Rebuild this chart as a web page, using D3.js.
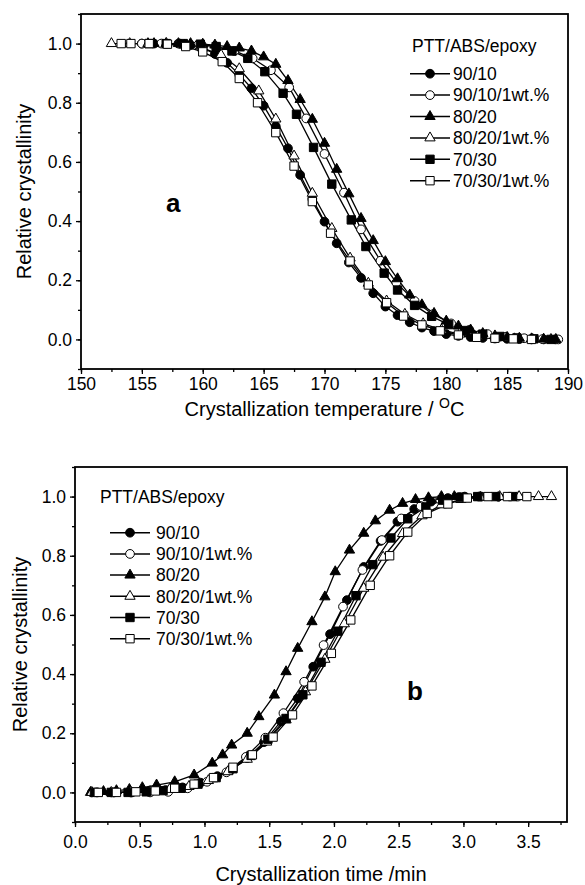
<!DOCTYPE html>
<html>
<head>
<meta charset="utf-8">
<script src="https://cdn.jsdelivr.net/npm/d3@7"></script>
<style>
body { margin: 0; background: #fff; }
text { font-family: "Liberation Sans", Arial, sans-serif; fill: #000; }
</style>
</head>
<body>
<svg id="chart" width="585" height="885"></svg>
<script>
// series names, same for both panels
var seriesNames = ["90/10", "90/10/1wt.%", "80/20", "80/20/1wt.%", "70/30", "70/30/1wt.%"];

// panel a : temperature (C) vs relative crystallinity
var a9010T   = [155,156,157,158,159,160,161,162,163,164,165,166,167,168,169,170,171,172,173,174,175,176,177,178,179,180,181,182,183,184,185,186,187,188,189];
var a9010X   = [1,1,1,1,0.995,0.985,0.965,0.935,0.895,0.849,0.79,0.72,0.646,0.556,0.475,0.398,0.325,0.26,0.208,0.156,0.111,0.082,0.058,0.04,0.028,0.018,0.012,0.008,0.005,0.003,0.002,0.001,0,0,0];
var a9010eT  = [155.0,156.6,158.1,159.6,161.1,162.6,164.1,165.6,167.1,168.5,170.0,171.6,173.0,174.6,175.9,177.4,178.9,180.4,181.9,183.4,184.9,186.4,187.9,189.2];
var a9010eX  = [1,1,1,0.995,0.99,0.975,0.95,0.91,0.852,0.747,0.627,0.496,0.372,0.266,0.192,0.13,0.085,0.054,0.032,0.018,0.009,0.004,0.001,0];
var a8020T   = [156,157,158,159,160,161,162,163,164,165,166,167,168,169,170,171,172,173,174,175,176,177,178,179,180,181,182,183,184,185,186,187,188,189];
var a8020X   = [1,1,1,1,0.998,0.995,0.99,0.985,0.975,0.955,0.93,0.875,0.811,0.744,0.663,0.575,0.492,0.409,0.334,0.263,0.205,0.15,0.117,0.088,0.062,0.045,0.032,0.02,0.012,0.007,0.004,0.002,0.001,0];
var a8020eT  = [152.5,154.0,155.5,157.0,158.5,160.0,161.5,163.0,164.6,166.0,167.5,169.0,170.6,172.1,173.6,175.1,176.6,178.1,179.6,181.1,182.6,184.1,185.6,187.1,188.6];
var a8020eX  = [1,1,1,1,0.995,0.985,0.962,0.915,0.84,0.745,0.62,0.494,0.375,0.275,0.19,0.13,0.085,0.053,0.032,0.018,0.01,0.005,0.002,0,0];
var a7030T   = [155.6,157.0,158.4,159.8,161.1,162.4,163.7,165.1,166.6,167.7,169.1,170.6,172.2,173.4,174.9,176.0,177.4,178.8,180.2,181.6,183.0,184.4,185.8,187.2,188.6];
var a7030X   = [1,1,1,0.998,0.99,0.975,0.95,0.905,0.832,0.761,0.649,0.525,0.404,0.314,0.224,0.167,0.115,0.078,0.05,0.03,0.018,0.01,0.005,0.002,0];
var a7030eT  = [153.3,154.1,155.6,157.1,158.6,160.0,161.6,163.0,164.5,166.0,167.5,169.0,170.5,172.1,173.6,175.1,176.5,178.0,179.5,181.0,182.5,184.0,185.5,187.0];
var a7030eX  = [1,1,1,0.998,0.99,0.972,0.939,0.882,0.8,0.699,0.586,0.466,0.359,0.265,0.184,0.124,0.079,0.049,0.029,0.015,0.007,0.004,0.002,0];

// panel b : time (min) vs relative crystallinity
var b9010T   = [0.17,0.30,0.44,0.57,0.70,0.83,0.97,1.10,1.20,1.33,1.46,1.59,1.72,1.84,1.97,2.10,2.23,2.36,2.49,2.62,2.75,2.88,3.01,3.14,3.27];
var b9010X   = [0,0,0,0.003,0.008,0.017,0.033,0.055,0.075,0.116,0.17,0.24,0.318,0.425,0.535,0.65,0.762,0.85,0.915,0.958,0.983,0.995,1,1,1];
var b9010eT  = [0.13,0.28,0.43,0.58,0.72,0.87,1.02,1.17,1.32,1.47,1.61,1.77,1.92,2.07,2.22,2.37,2.52,2.67,2.82,2.97,3.12,3.27,3.42];
var b9010eX  = [0,0,0,0,0.002,0.014,0.036,0.068,0.12,0.185,0.268,0.374,0.498,0.628,0.752,0.853,0.926,0.968,0.99,0.998,1,1,1];
var b8020T   = [0.12,0.22,0.32,0.42,0.52,0.63,0.77,0.92,1.06,1.14,1.21,1.33,1.42,1.54,1.63,1.72,1.83,1.93,2.01,2.12,2.23,2.32,2.43,2.53,2.63,2.73,2.83,2.93];
var b8020X   = [0,0.003,0.006,0.01,0.016,0.025,0.036,0.059,0.099,0.127,0.16,0.2,0.256,0.329,0.408,0.487,0.577,0.661,0.746,0.819,0.876,0.918,0.954,0.977,0.99,0.996,1,1];
var b8020eT  = [0.13,0.28,0.43,0.58,0.73,0.88,1.03,1.18,1.33,1.48,1.63,1.78,1.93,2.08,2.23,2.38,2.53,2.68,2.83,2.98,3.13,3.28,3.43,3.58,3.68];
var b8020eX  = [0,0,0,0.003,0.01,0.02,0.04,0.07,0.112,0.17,0.245,0.34,0.45,0.57,0.69,0.795,0.875,0.935,0.972,0.99,0.998,1,1,1,1];
var b7030T   = [0.15,0.28,0.41,0.55,0.68,0.82,0.95,1.09,1.22,1.36,1.49,1.63,1.76,1.90,2.03,2.17,2.30,2.44,2.57,2.71,2.84,2.98,3.11,3.25,3.38];
var b7030X   = [0,0,0,0.002,0.006,0.014,0.028,0.05,0.08,0.125,0.18,0.25,0.33,0.44,0.545,0.665,0.77,0.86,0.925,0.965,0.988,0.998,1,1,1];
var b7030eT  = [0.18,0.32,0.47,0.62,0.77,0.92,1.07,1.22,1.37,1.53,1.68,1.83,1.98,2.13,2.28,2.43,2.57,2.72,2.88,3.03,3.19,3.34,3.49];
var b7030eX  = [0,0,0.002,0.005,0.014,0.028,0.05,0.085,0.127,0.187,0.262,0.36,0.47,0.583,0.7,0.8,0.88,0.943,0.975,0.995,1,1,1];

// tick values
var aXTicks = [150,155,160,165,170,175,180,185,190];
var bXTicks = [0.0,0.5,1.0,1.5,2.0,2.5,3.0,3.5];
var yTicks  = [0.0,0.2,0.4,0.6,0.8,1.0];

// marker style per series (circle/triangle/square, filled or open)
var shapes = [d3.symbolCircle, d3.symbolCircle, d3.symbolTriangle, d3.symbolTriangle, d3.symbolSquare, d3.symbolSquare];
var sizes  = [60, 60, 46, 46, 70, 70];
var fills  = ["#000", "#fff", "#000", "#fff", "#000", "#fff"];

var svg = d3.select("#chart");

function zip(t, v) { return t.map(function(d, i) { return {t: d, v: v[i]}; }); }

var panelA = {
  left: 81, right: 568, top: 14, bottom: 369,
  xDomain: [150, 190], xTicks: aXTicks, xMinorStep: 2.5, xFormat: d3.format("d"), xPad: 4,
  data: [zip(a9010T,a9010X), zip(a9010eT,a9010eX), zip(a8020T,a8020X), zip(a8020eT,a8020eX), zip(a7030T,a7030X), zip(a7030eT,a7030eX)],
  legend: {titleX: 412, titleY: 52, lineX0: 410, lineX1: 450, textX: 453, rowY: 80, rowStep: 21.4},
  tag: {text: "a", x: 166, y: 212},
  yTitle: {x: 31},
  xTitle: {y: 416}
};
var panelB = {
  left: 75, right: 567, top: 467, bottom: 822,
  xDomain: [0, 3.8], xTicks: bXTicks, xMinorStep: 0.25, xFormat: d3.format(".1f"), xPad: 9,
  data: [zip(b9010T,b9010X), zip(b9010eT,b9010eX), zip(b8020T,b8020X), zip(b8020eT,b8020eX), zip(b7030T,b7030X), zip(b7030eT,b7030eX)],
  legend: {titleX: 100, titleY: 503, lineX0: 110, lineX1: 150, textX: 156, rowY: 539, rowStep: 21.2},
  tag: {text: "b", x: 407, y: 700},
  yTitle: {x: 27},
  xTitle: {y: 881}
};

function drawPanel(p, xTitleParts) {
  var x = d3.scaleLinear().domain(p.xDomain).range([p.left, p.right]);
  var y = d3.scaleLinear().domain([-0.1, 1.1]).range([p.bottom, p.top]);
  var g = svg.append("g");

  // minor ticks
  var xMinor = d3.range(p.xDomain[0], p.xDomain[1] + 1e-9, p.xMinorStep);
  var yMinor = d3.range(-0.1, 1.1 + 1e-9, 0.1);
  g.append("g").attr("transform", "translate(0," + p.bottom + ")")
    .call(d3.axisBottom(x).tickValues(xMinor).tickSize(3).tickFormat(""))
    .call(function(s) { s.select(".domain").remove(); s.selectAll("line").attr("stroke-width", 1.3); });
  g.append("g").attr("transform", "translate(" + p.left + ",0)")
    .call(d3.axisLeft(y).tickValues(yMinor).tickSize(3).tickFormat(""))
    .call(function(s) { s.select(".domain").remove(); s.selectAll("line").attr("stroke-width", 1.3); });

  // major ticks + labels
  g.append("g").attr("transform", "translate(0," + p.bottom + ")")
    .call(d3.axisBottom(x).tickValues(p.xTicks).tickSize(5).tickPadding(p.xPad).tickFormat(p.xFormat))
    .call(function(s) {
      s.select(".domain").remove();
      s.selectAll("line").attr("stroke-width", 1.3);
      s.selectAll("text").attr("font-size", 17.5).attr("font-family", "Liberation Sans, Arial, sans-serif");
    });
  g.append("g").attr("transform", "translate(" + p.left + ",0)")
    .call(d3.axisLeft(y).tickValues(yTicks).tickSize(5).tickPadding(4).tickFormat(d3.format(".1f")))
    .call(function(s) {
      s.select(".domain").remove();
      s.selectAll("line").attr("stroke-width", 1.3);
      s.selectAll("text").attr("font-size", 17.5).attr("font-family", "Liberation Sans, Arial, sans-serif");
    });

  // frame
  g.append("rect")
    .attr("x", p.left).attr("y", p.top)
    .attr("width", p.right - p.left).attr("height", p.bottom - p.top)
    .attr("fill", "none").attr("stroke", "#000").attr("stroke-width", 1.8);

  var line = d3.line().x(function(d) { return x(d.t); }).y(function(d) { return y(d.v); });

  p.data.forEach(function(series, i) {
    g.append("path").datum(series)
      .attr("d", line).attr("fill", "none").attr("stroke", "#000").attr("stroke-width", 1.3);
  });
  p.data.forEach(function(series, i) {
    g.selectAll(null).data(series).enter().append("path")
      .attr("d", d3.symbol().type(shapes[i]).size(sizes[i]))
      .attr("transform", function(d) { return "translate(" + x(d.t) + "," + y(d.v) + ")"; })
      .attr("fill", fills[i]).attr("stroke", "#000").attr("stroke-width", 1);
  });

  // legend
  var L = p.legend;
  g.append("text").attr("x", L.titleX).attr("y", L.titleY).attr("font-size", 17.5).text("PTT/ABS/epoxy");
  seriesNames.forEach(function(name, i) {
    var by = L.rowY + i * L.rowStep, cy = by - 6.3;
    g.append("line").attr("x1", L.lineX0).attr("x2", L.lineX1).attr("y1", cy).attr("y2", cy)
      .attr("stroke", "#000").attr("stroke-width", 1.5);
    g.append("path").attr("d", d3.symbol().type(shapes[i]).size(sizes[i]))
      .attr("transform", "translate(" + ((L.lineX0 + L.lineX1) / 2) + "," + cy + ")")
      .attr("fill", fills[i]).attr("stroke", "#000").attr("stroke-width", 1);
    g.append("text").attr("x", L.textX).attr("y", by).attr("font-size", 17.5).text(name);
  });

  // panel tag
  g.append("text").attr("x", p.tag.x).attr("y", p.tag.y)
    .attr("font-size", 26).attr("font-weight", "bold").text(p.tag.text);

  // axis titles
  g.append("text")
    .attr("transform", "translate(" + p.yTitle.x + "," + ((p.top + p.bottom) / 2) + ") rotate(-90)")
    .attr("text-anchor", "middle").attr("font-size", 20).text("Relative crystallinity");
  var xt = g.append("text").attr("x", (p.left + p.right) / 2).attr("y", p.xTitle.y)
    .attr("text-anchor", "middle").attr("font-size", 20);
  xTitleParts(xt);
}

drawPanel(panelA, function(t) {
  t.append("tspan").text("Crystallization temperature / ");
  t.append("tspan").attr("dy", -8).attr("font-size", 14).text("O");
  t.append("tspan").attr("dy", 8).text("C");
});
drawPanel(panelB, function(t) {
  t.text("Crystallization time /min");
});
</script>
</body>
</html>
